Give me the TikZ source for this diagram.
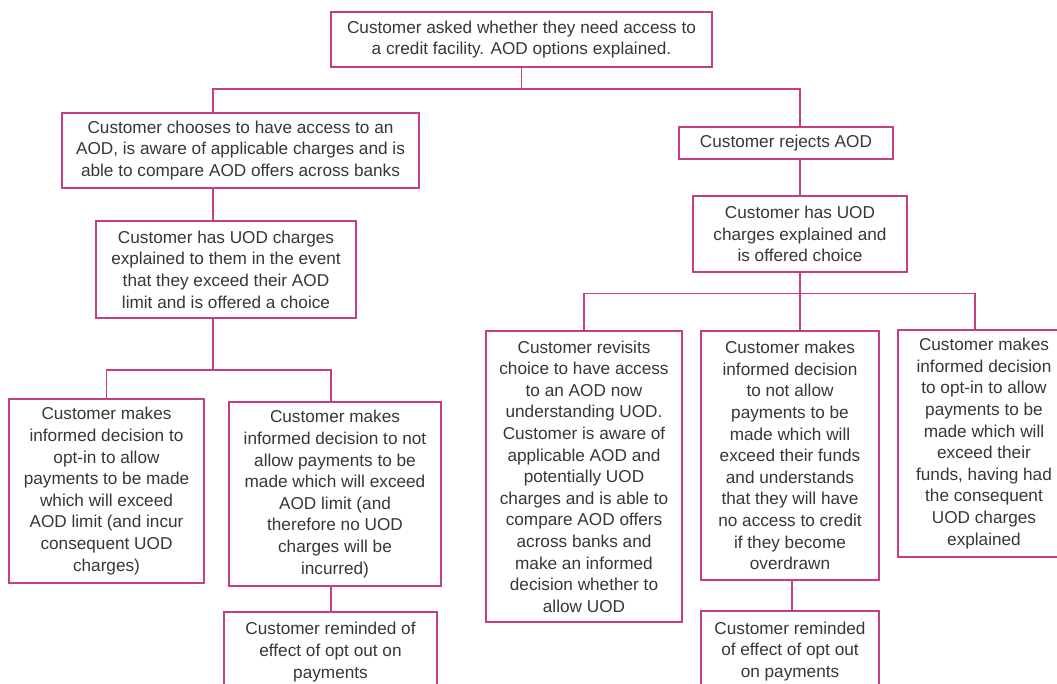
\documentclass[tikz,border=0pt]{standalone}
\usepackage{fontspec}
\setmainfont{Liberation Sans}
\definecolor{linepink}{RGB}{196,64,130}
\definecolor{txtgrey}{RGB}{55,55,55}
\tikzset{
  box/.style={draw=linepink, line width=1.1pt, rectangle, align=center, inner sep=0pt,
    text=txtgrey, font=\fontsize{12.9}{16.2}\selectfont},
  conn/.style={draw=linepink, line width=1.1pt}
}
\begin{document}
\begin{tikzpicture}[x=0.75pt,y=-0.75pt]
\useasboundingbox (0,0) rectangle (1057,684);
\clip (0,0) rectangle (1057,684);
\fill[white] (0,0) rectangle (1057,684);

\node[box, minimum width=285.75pt, minimum height=41.25pt] (top) at (521.5,39.5)
  {Customer asked whether they need access to\\a credit facility. AOD options explained.};
\node[box, minimum width=267.75pt, minimum height=56.25pt] (chooses) at (240.5,150.5)
  {Customer chooses to have access to an\\AOD, is aware of applicable charges and is\\able to compare AOD offers across banks};
\node[box, minimum width=195pt, minimum height=72.75pt] (uodL) at (226,269.5)
  {Customer has UOD charges\\explained to them in the event\\that they exceed their AOD\\limit and is offered a choice};
\node[box, minimum width=146.25pt, minimum height=138pt] (optinL) at (106.5,491)
  {Customer makes\\informed decision to\\opt-in to allow\\payments to be made\\which will exceed\\AOD limit (and incur\\consequent UOD\\charges)};
\node[box, minimum width=159pt, minimum height=138pt] (notL) at (335,494)
  {Customer makes\\informed decision to not\\allow payments to be\\made which will exceed\\AOD limit (and\\therefore no UOD\\charges will be\\incurred)};
\node[box, minimum width=159.75pt, minimum height=60pt] (remL) at (330.5,652)
  {Customer reminded of\\effect of opt out on\\payments};

\node[box, minimum width=160.5pt, minimum height=24pt] (rejects) at (786,143)
  {Customer rejects AOD};
\node[box, minimum width=160.5pt, minimum height=57pt] (uodR) at (800,234)
  {Customer has UOD\\charges explained and\\is offered choice};
\node[box, minimum width=147pt, minimum height=218.25pt] (revisits) at (584,476.5)
  {Customer revisits\\choice to have access\\to an AOD now\\understanding UOD.\\Customer is aware of\\applicable AOD and\\potentially UOD\\charges and is able to\\compare AOD offers\\across banks and\\make an informed\\decision whether to\\allow UOD};
\node[box, minimum width=133.5pt, minimum height=186.75pt] (notR) at (790,455.5)
  {Customer makes\\informed decision\\to not allow\\payments to be\\made which will\\exceed their funds\\and understands\\that they will have\\no access to credit\\if they become\\overdrawn};
\node[box, minimum width=129pt, minimum height=170.25pt] (optinR) at (984,443.5)
  {Customer makes\\informed decision\\to opt-in to allow\\payments to be\\made which will\\exceed their\\funds, having had\\the consequent\\UOD charges\\explained};
\node[box, minimum width=133.5pt, minimum height=60.75pt] (remR) at (790,651.5)
  {Customer reminded\\of effect of opt out\\on payments};

% junction coordinates
\coordinate (b1) at (521.5,89);
\coordinate (b2) at (213,370);
\coordinate (b3) at (800,293.5);
\coordinate (cL) at (213,0);
\coordinate (cR) at (800,0);
\coordinate (cN) at (331,0);
\coordinate (cM) at (792,0);
\coordinate (cO) at (975,0);

% top level
\draw[conn] (top.south) -- (b1);
\draw[conn] (cL |- chooses.north) -- (cL |- b1) -- (cR |- b1) -- (cR |- rejects.north);
% left branch
\draw[conn] (cL |- chooses.south) -- (cL |- uodL.north);
\draw[conn] (cL |- uodL.south) -- (b2);
\draw[conn] (optinL.north) -- (optinL.north |- b2) -- (cN |- b2) -- (cN |- notL.north);
\draw[conn] (cN |- notL.south) -- (cN |- remL.north);
% right branch
\draw[conn] (cR |- rejects.south) -- (cR |- uodR.north);
\draw[conn] (cR |- uodR.south) -- (cR |- notR.north);
\draw[conn] (revisits.north) -- (revisits.north |- b3) -- (cO |- b3) -- (cO |- optinR.north);
\draw[conn] (cM |- notR.south) -- (cM |- remR.north);
\end{tikzpicture}
\end{document}
